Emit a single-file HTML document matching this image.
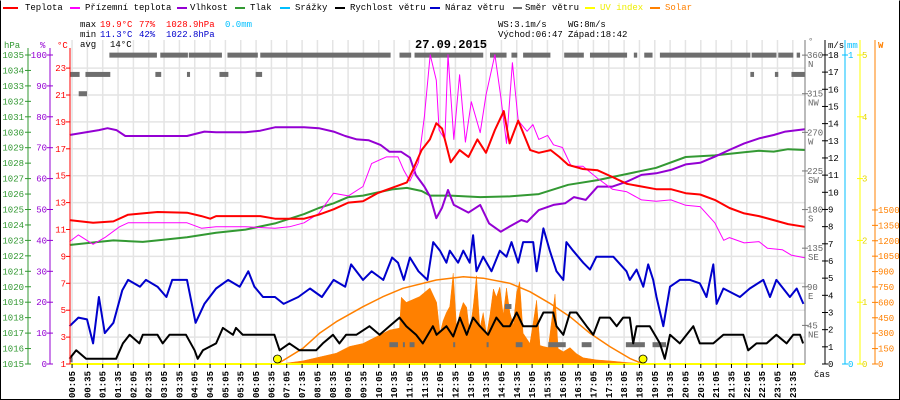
<!DOCTYPE html>
<html><head><meta charset="utf-8"><style>
html,body{margin:0;padding:0;background:#fff;}
#c{position:relative;width:900px;height:400px;overflow:hidden;}
svg text{font-family:"Liberation Mono",monospace;}
</style></head><body>
<div id="c">
<svg id="s" width="900" height="400" xmlns="http://www.w3.org/2000/svg"></svg>
</div>
<script>
// ---- data ----
const tempT=[0,0.77,1.43,1.91,2.87,3.83,4.3,4.59,4.78,6.22,6.7,7.17,7.65,8.13,8.61,9.09,9.57,10.04,10.52,11,11.19,11.48,11.75,11.96,12.15,12.43,12.72,13.01,13.3,13.58,13.87,14.16,14.35,14.63,15.02,15.3,15.69,15.97,16.26,16.74,17.22,17.7,18.17,18.65,19.13,19.61,20.09,20.56,21.04,21.52,22,22.48,22.96,23.43,23.97];
const tempV=[11.7,11.5,11.6,12.1,12.3,12.25,12.0,11.8,12.0,12.0,11.8,11.8,11.8,12.1,12.5,13.0,13.1,13.7,14.1,14.5,15.4,16.9,17.7,18.9,18.5,16.0,16.9,16.4,17.7,16.7,18.4,19.8,17.4,19.1,16.9,16.7,16.9,16.4,15.8,15.5,15.4,14.9,14.4,14.2,14.0,14.0,13.7,13.6,13.2,12.6,12.2,12.0,11.7,11.4,11.2];
const appT=[0,0.29,0.77,1.15,1.63,1.91,2.87,3.83,4.3,4.78,5.74,6.7,7.17,7.65,8.13,8.61,9.09,9.57,9.85,10.33,10.71,10.9,11.1,11.38,11.57,11.76,11.96,12.05,12.24,12.34,12.53,12.72,12.91,13.1,13.39,13.58,13.87,14.06,14.25,14.44,14.63,14.92,15.11,15.3,15.59,15.78,16.07,16.36,16.74,17.22,17.7,18.17,18.65,19.13,19.61,20.09,20.56,21.04,21.33,21.52,22,22.48,22.76,23.24,23.53,23.97];
const appV=[10.1,10.6,9.9,10.4,11.2,11.5,11.5,11.5,11.1,11.2,11.2,11.1,11.2,11.5,12.2,13.7,13.5,14.2,15.9,16.4,16.4,15.4,14.6,16.0,19.4,24,22.1,18.4,17.7,24,17.7,22.5,17.5,20.5,18.2,21.0,24,20.9,17.4,23.4,19.1,18.3,18.8,17.7,18.0,17.3,17.1,15.7,15.7,14.8,14.0,13.8,13.2,13.1,13.2,12.8,12.7,11.5,10.2,10.4,10.0,10.1,9.6,9.5,9.1,8.9];
const humT=[0,0.96,1.24,1.53,1.82,2.87,3.83,4.4,4.78,5.74,6.22,6.7,7.65,8.13,8.61,8.99,9.37,9.76,10.14,10.43,10.81,11.1,11.29,11.57,11.76,11.96,12.15,12.34,12.53,13.01,13.39,13.68,14.06,14.35,14.73,14.92,15.3,15.78,16.16,16.45,16.83,17.22,17.7,18.17,18.65,19.13,19.61,20.09,20.56,21.04,21.52,22,22.48,22.96,23.34,23.97];
const humV=[74.1,75.7,76.3,75.7,73.8,73.8,73.8,75.2,75,75,75.5,76.6,76.6,76.3,75.2,73.8,72.7,72.4,70.9,68.7,68.7,66.8,61.2,57.4,54.1,47.2,50.6,56.3,51.5,49,51.5,45.5,42.8,44.5,46.6,46,49.8,51.5,52,54,53.1,57.4,57.4,59.0,61.2,61.7,62.8,64.6,65.1,67.1,69.3,71.4,73,74.1,75.2,76];
const presT=[0,0.96,1.43,2.39,2.87,3.83,4.78,5.74,6.7,7.17,7.65,8.13,8.61,9.09,9.57,10.04,10.52,11,11.48,11.76,12.43,13.39,14.35,15.3,16.26,17.22,18.17,19.13,20.09,21.04,22,22.48,22.96,23.43,23.97];
const presV=[1022.7,1022.9,1023.0,1022.9,1023.0,1023.2,1023.5,1023.7,1024.1,1024.4,1024.7,1025.1,1025.4,1025.8,1025.9,1026.1,1026.3,1026.4,1026.2,1025.9,1025.9,1025.8,1025.85,1026.0,1026.6,1026.9,1027.3,1027.7,1028.4,1028.5,1028.7,1028.8,1028.75,1028.9,1028.85];
const gustT=[0,0.29,0.57,0.77,0.96,1.15,1.43,1.72,1.91,2.3,2.49,2.87,3.16,3.35,3.83,4.11,4.4,4.78,5.17,5.55,5.83,6.03,6.31,6.7,6.98,7.46,7.84,8.23,8.61,8.99,9.18,9.57,9.85,10.23,10.52,10.71,10.9,11.1,11.38,11.67,11.86,12.08,12.29,12.4,12.67,12.84,13.05,13.16,13.27,13.49,13.76,14.03,14.25,14.41,14.63,14.79,15.12,15.23,15.45,15.66,15.88,16.1,16.2,16.42,16.75,16.97,17.18,17.73,18.16,18.27,18.49,18.71,18.87,19.03,19.14,19.36,19.58,19.9,20.23,20.55,20.77,20.99,21.1,21.32,21.86,22.18,22.62,22.84,23.05,23.49,23.71,23.93];
const gustV=[2.2,2.7,2.6,1.2,3.9,1.8,2.4,4.3,4.9,4.5,4.9,4.5,3.9,4.9,4.9,2.4,3.5,4.4,4.9,4.5,5.4,4.5,3.9,3.9,3.5,3.9,4.4,3.9,4.9,4.5,5.8,4.9,5.4,4.9,6.2,5.9,4.9,6.2,5.4,4.9,7.1,6.6,5.9,6.6,5.9,6.6,5.9,7.5,5.4,6.25,5.4,6.6,6.25,7.1,5.9,7.1,7.1,5.4,7.9,6.6,5.4,4.9,7.1,6.6,5.9,5.5,6.25,6.25,5.4,4.9,5.5,4.5,5.8,4.9,3.9,2.2,4.5,4.9,4.9,4.7,3.9,5.8,3.5,4.4,3.9,4.4,4.9,3.9,4.9,3.9,4.4,3.5];
const windT=[0,0.22,0.54,1.52,1.74,1.96,2.28,2.39,2.87,3.04,3.26,3.8,4.08,4.18,4.35,4.78,5.0,5.33,5.43,5.65,6.68,6.85,7.17,7.5,8.04,8.26,8.59,8.8,9.02,9.35,9.78,10.11,10.43,10.76,10.98,11.3,11.52,11.85,11.97,12.29,12.51,12.73,12.95,13.16,13.38,13.65,13.92,14.14,14.36,14.58,14.79,15.23,15.45,15.77,15.88,16.1,16.32,16.53,16.86,17.08,17.29,17.62,17.84,18.05,18.27,18.38,18.49,18.92,19.25,19.41,19.58,19.9,20.34,20.55,20.99,21.32,21.97,22.13,22.4,22.73,23.05,23.38,23.6,23.82,23.92];
const windV=[0.3,0.8,0.3,0.3,1.2,1.7,1.2,1.7,1.7,1.2,1.7,1.7,0.8,0.3,0.8,1.2,2.1,1.7,2.1,1.7,1.7,0.8,1.2,0.8,0.8,1.2,1.7,1.2,1.7,1.7,2.2,1.7,2.2,2.7,2.2,1.7,1.2,2.2,1.7,2.2,1.6,2.7,1.7,2.7,2.2,1.7,2.7,2.2,2.2,3.0,2.2,2.2,3.0,3.0,2.2,1.7,3.0,3.0,2.2,1.7,2.7,2.7,2.2,2.7,2.7,1.2,2.2,2.2,1.2,0.3,1.7,1.2,2.2,1.2,1.2,1.7,1.7,0.8,1.2,1.2,1.7,1.2,1.7,1.7,1.2];
const solarT=[6.85,7.61,8.7,9.13,9.57,10.0,10.43,10.76,10.82,10.98,11.41,11.75,11.97,12.08,12.18,12.29,12.4,12.51,12.62,12.73,12.84,12.95,13.05,13.16,13.27,13.38,13.49,13.6,13.71,13.82,13.92,14.03,14.14,14.25,14.36,14.47,14.58,14.68,14.79,14.9,15.01,15.12,15.23,15.34,15.45,15.61,15.83,15.93,16.1,16.32,16.53,16.75,17.18,17.62,18.16,18.6,18.82];
const solarV=[0,30,105,170,200,265,330,350,650,600,655,740,600,300,420,500,560,885,350,500,600,550,300,550,860,350,500,280,480,730,650,750,480,740,500,380,700,800,300,250,200,400,620,180,170,160,680,150,120,160,100,60,40,30,15,5,0];
const sunT=[6.78,7.61,8.15,8.7,9.57,10.22,10.87,11.96,12.84,13.49,14.36,15.01,15.66,16.32,16.97,17.62,18.27,18.7];
const sunV=[0,153,299,412,558,655,737,818,850,835,786,704,591,461,299,169,55,0];
const dirStart=[1.3,2.96,3.89,5.15,6.22,10.76,11.25,11.75,13.71,14.41,14.79,16.13,16.97,18.4,18.74,19.25,22.24,23.11,23.71, 0,0.52,2.8,3.83,4.89,6.07,22.2,23.0,23.54, 0.3, 10.43,10.87,11.09,12.51,13.6,14.55,15.61,16.7,18.14,19.01, 14.2, 0];
const dirEnd=[2.85,3.86,4.97,6.14,10.47,11.14,12.07,13.49,14.25,14.6,15.68,16.77,18.18,18.51,19.01,22.2,23.05,23.6,23.82, 0.33,1.33,2.99,3.93,5.18,6.28,22.32,23.11,23.98, 0.57, 10.71,10.92,11.25,12.57,13.65,14.77,16.18,17.02,18.76,19.45, 14.41, 0.1];
const dirDeg=[360,360,360,360,360,360,360,360,360,360,360,360,360,360,360,360,360,360,360, 337.5,337.5,337.5,337.5,337.5,337.5,337.5,337.5,337.5, 315, 22.5,22.5,22.5,22.5,22.5,22.5,22.5,22.5,22.5,22.5, 67, 5];
const sunriseH=6.78, sunsetH=18.7;
const xLabels=[];for(let h=0;h<24;h++){const hh=String(h).padStart(2,'0');xLabels.push(hh+':05',hh+':35');}
const hpaTicks=[1015,1016,1017,1018,1019,1020,1021,1022,1023,1024,1025,1026,1027,1028,1029,1030,1031,1032,1033,1034,1035];
const pctTicks=[0,10,20,30,40,50,60,70,80,90,100];
const tempTicks=[1,3,5,7,9,11,13,15,17,19,21,23];
const degTicks=[45,90,135,180,225,270,315,360];
const degNames=['NE','E','SE','S','SW','W','NW','N'];
const msTicks=[0,1,2,3,4,5,6,7,8,9,10,11,12,13,14,15,16,17,18];
const uvTicks=[0,1,2,3,4,5];
const wTicks=[0,150,300,450,600,750,900,1050,1200,1350,1500];

// ---- scales ----
const X0=69.5,PXH=30.67,YB=364;
const x=h=>X0+h*PXH;
const yT=t=>YB-(t-1)*13.45;
const yP=p=>YB-p*3.09;
const yH=p=>YB-(p-1015)*15.45;
const yW=v=>YB-v*17.17;
const yS=w=>YB-w*0.1027;
const yD=d=>YB-d*0.858;
const yUV=u=>YB-u*61.8;

const NS='http://www.w3.org/2000/svg', svg=document.getElementById('s');
function el(tag,attrs,parent){const e=document.createElementNS(NS,tag);for(const k in attrs)e.setAttribute(k,attrs[k]);(parent||svg).appendChild(e);return e;}
function txt(str,attrs,parent){const e=el('text',attrs,parent);e.textContent=str;return e;}
function grp(){const g=document.createElementNS(NS,'g');svg.appendChild(g);return g;}

// gridlines
const grid=grp();


xLabels.forEach((l,i)=>{el('line',{x1:x(i*0.5+1/12),x2:x(i*0.5+1/12),y1:40,y2:YB,stroke:'#e4e4e4','stroke-width':1.5},grid);});
tempTicks.forEach(t=>{el('line',{x1:70,x2:805,y1:yT(t),y2:yT(t),stroke:'#e4e4e4','stroke-width':1.5},grid);});

// series helpers
function line(T,V,fy,color,w,name){
  const d=T.map((t,i)=>(i?'L':'M')+x(t).toFixed(1)+' '+Math.max(47,fy(V[i])).toFixed(1)).join(' ');
  const p=el('path',{d:d,fill:'none',stroke:color,'stroke-width':w,'stroke-linejoin':'round'});
  
  
  return p;
}
// solar area
{
  let d='M'+x(solarT[0])+' '+YB;
  solarT.forEach((t,i)=>{d+=' L'+x(t).toFixed(1)+' '+yS(solarV[i]).toFixed(1);});
  d+=' L'+x(solarT[solarT.length-1])+' '+YB+' Z';
  const a=el('path',{d:d,fill:'#ff8000',stroke:'#ff8000','stroke-width':0.5});
  
  
}
// wind direction bars
const dirG=grp();


dirStart.forEach((s,i)=>{
  const r=el('rect',{x:x(s),y:yD(dirDeg[i])-2.5,width:Math.max(2,x(dirEnd[i])-x(s)),height:5,fill:'#6e6e6e'},dirG);
  
  
});
line(sunT,sunV,yS,'#ff8000',1.5,'solar-theoretical-curve');
line(presT,presV,yH,'#339933',2,'pressure-line');
line(humT,humV,yP,'#9400d3',2,'humidity-line');
line(appT,appV,yT,'#ff00ff',1,'apparent-temperature-line');
line(tempT,tempV,yT,'#ff0000',2,'temperature-line');
line(gustT,gustV,yW,'#0000cc',2,'wind-gust-line');
line(windT,windV,yW,'#000000',2,'wind-speed-line');

// baseline (UV zero)
el('line',{x1:70,x2:805,y1:YB,y2:YB,stroke:'#ffff00','stroke-width':2});
[sunriseH,sunsetH].forEach((h,i)=>{
  const c=el('circle',{cx:x(h),cy:YB-5,r:4,fill:'#ffff00',stroke:'#000','stroke-width':0.8});
  
  
});

// left axes
const ax=grp();


el('line',{x1:28,x2:28,y1:48,y2:YB,stroke:'#339933'},ax);
el('line',{x1:50,x2:50,y1:48,y2:YB,stroke:'#9400d3'},ax);
el('line',{x1:70,x2:70,y1:48,y2:YB,stroke:'#ff0000'},ax);
txt('hPa',{x:4,y:48,fill:'#339933','font-size':9},ax);
txt('%',{x:40,y:48,fill:'#9400d3','font-size':9},ax);
txt('°C',{x:57,y:48,fill:'#ff0000','font-size':9},ax);
hpaTicks.forEach(v=>{el('line',{x1:25,x2:31,y1:yH(v),y2:yH(v),stroke:'#339933'},ax);txt(v,{x:24,y:yH(v)+3,fill:'#339933','font-size':9,'text-anchor':'end'},ax);});
pctTicks.forEach(v=>{el('line',{x1:47,x2:53,y1:yP(v),y2:yP(v),stroke:'#9400d3'},ax);txt(v,{x:47,y:yP(v)+3,fill:'#9400d3','font-size':9,'text-anchor':'end'},ax);});
tempTicks.forEach(v=>{el('line',{x1:66,x2:70,y1:yT(v),y2:yT(v),stroke:'#ff0000'},ax);txt(v,{x:66,y:yT(v)+3,fill:'#ff0000','font-size':9,'text-anchor':'end'},ax);});

// right axes
el('line',{x1:805,x2:805,y1:40,y2:YB,stroke:'#777'},ax);
el('line',{x1:825,x2:825,y1:40,y2:YB,stroke:'#000'},ax);
el('line',{x1:845,x2:845,y1:40,y2:YB,stroke:'#00bfff'},ax);
el('line',{x1:860,x2:860,y1:40,y2:YB,stroke:'#ffff00'},ax);
el('line',{x1:875,x2:875,y1:40,y2:YB,stroke:'#ff8000'},ax);
txt('°',{x:808,y:44,fill:'#777','font-size':9},ax);
txt('m/s',{x:828,y:48,fill:'#000','font-size':9},ax);
txt('mm',{x:847,y:48,fill:'#00bfff','font-size':9},ax);
txt('W',{x:878,y:48,fill:'#ff8000','font-size':9,'font-weight':'bold'},ax);
degTicks.forEach((v,i)=>{el('line',{x1:802,x2:808,y1:yD(v),y2:yD(v),stroke:'#777'},ax);txt(v,{x:807,y:yD(v)+3,fill:'#666','font-size':9},ax);txt(degNames[i],{x:808,y:yD(v)+12,fill:'#666','font-size':9},ax);});
msTicks.forEach(v=>{el('line',{x1:822,x2:828,y1:yW(v),y2:yW(v),stroke:'#000'},ax);txt(v,{x:828,y:yW(v)+3,fill:'#000','font-size':9},ax);});
[[0,YB],[1,55]].forEach(p=>{el('line',{x1:842,x2:848,y1:p[1],y2:p[1],stroke:'#00bfff'},ax);txt(p[0],{x:848,y:p[1]+3,fill:'#00bfff','font-size':9},ax);});
uvTicks.forEach(v=>{el('line',{x1:857,x2:863,y1:yUV(v),y2:yUV(v),stroke:'#ffff00'},ax);txt(v,{x:862,y:yUV(v)+3,fill:'#e6d800','font-size':9},ax);});
wTicks.forEach(v=>{el('line',{x1:872,x2:878,y1:yS(v),y2:yS(v),stroke:'#ff8000'},ax);txt(v,{x:878,y:yS(v)+3,fill:'#ff8000','font-size':9},ax);});
txt('čas',{x:814,y:377,fill:'#000','font-size':9},ax);

// x labels
xLabels.forEach((l,i)=>{
  const xx=x(i*0.5+1/12);
  el('line',{x1:xx,x2:xx,y1:YB,y2:YB+4,stroke:'#000'},ax);
  const t=txt(l,{x:0,y:0,fill:'#000','font-size':9,'font-weight':'bold','text-anchor':'end',transform:'translate('+(xx+3)+',371) rotate(-90)'},ax);
  
  
});
</script>
<div style="position:absolute;left:0;top:0;width:900px;height:400px;pointer-events:none;font-family:'Liberation Mono',monospace;font-size:9px;">
<div style="position:absolute;left:0;top:0;width:898px;height:398px;border:1px solid #000;border-top-color:#fff;"></div>
<div style="position:absolute;left:0;top:3px;white-space:nowrap;">
<span style="position:absolute;left:3px;"><b style="display:inline-block;width:15px;height:2px;background:#f00;vertical-align:middle;margin-right:7px"></b>Teplota</span>
<span style="position:absolute;left:70px;"><b style="display:inline-block;width:10px;height:2px;background:#f0f;vertical-align:middle;margin-right:5px"></b>Přízemní teplota</span>
<span style="position:absolute;left:177px;"><b style="display:inline-block;width:10px;height:2px;background:#9400d3;vertical-align:middle;margin-right:3px"></b>Vlhkost</span>
<span style="position:absolute;left:235px;"><b style="display:inline-block;width:10px;height:2px;background:#393;vertical-align:middle;margin-right:5px"></b>Tlak</span>
<span style="position:absolute;left:280px;"><b style="display:inline-block;width:10px;height:2px;background:#00bfff;vertical-align:middle;margin-right:5px"></b>Srážky</span>
<span style="position:absolute;left:335px;"><b style="display:inline-block;width:10px;height:2px;background:#000;vertical-align:middle;margin-right:5px"></b>Rychlost větru</span>
<span style="position:absolute;left:430px;"><b style="display:inline-block;width:10px;height:2px;background:#00c;vertical-align:middle;margin-right:5px"></b>Náraz větru</span>
<span style="position:absolute;left:513px;"><b style="display:inline-block;width:9px;height:2px;background:#6e6e6e;vertical-align:middle;margin-right:3px"></b>Směr větru</span>
<span style="position:absolute;left:585px;color:#ee0;"><b style="display:inline-block;width:10px;height:2px;background:#ff0;vertical-align:middle;margin-right:5px"></b>UV index</span>
<span style="position:absolute;left:650px;color:#ff8000;"><b style="display:inline-block;width:10px;height:2px;background:#ff8000;vertical-align:middle;margin-right:5px"></b>Solar</span>
</div>
<div>
<span style="position:absolute;left:80px;top:20px;">max</span>
<span style="position:absolute;left:100px;top:20px;color:#f00;">19.9°C</span>
<span style="position:absolute;left:139px;top:20px;color:#f00;">77%</span>
<span style="position:absolute;left:166px;top:20px;color:#f00;">1028.9hPa</span>
<span style="position:absolute;left:225px;top:20px;color:#00bfff;">0.0mm</span>
<span style="position:absolute;left:80px;top:30px;">min</span>
<span style="position:absolute;left:100px;top:30px;color:#00c;">11.3°C</span>
<span style="position:absolute;left:139px;top:30px;color:#00c;">42%</span>
<span style="position:absolute;left:166px;top:30px;color:#00c;">1022.8hPa</span>
<span style="position:absolute;left:80px;top:40px;">avg</span>
<span style="position:absolute;left:110px;top:40px;">14°C</span>
<span style="position:absolute;left:498px;top:20px;">WS:3.1m/s</span>
<span style="position:absolute;left:568px;top:20px;">WG:8m/s</span>
<span style="position:absolute;left:498px;top:30px;">Východ:06:47</span>
<span style="position:absolute;left:568px;top:30px;">Západ:18:42</span>
</div>
<div style="position:absolute;left:415px;top:38px;font-size:12px;font-weight:bold;">27.09.2015</div>
</div>
</body></html>
